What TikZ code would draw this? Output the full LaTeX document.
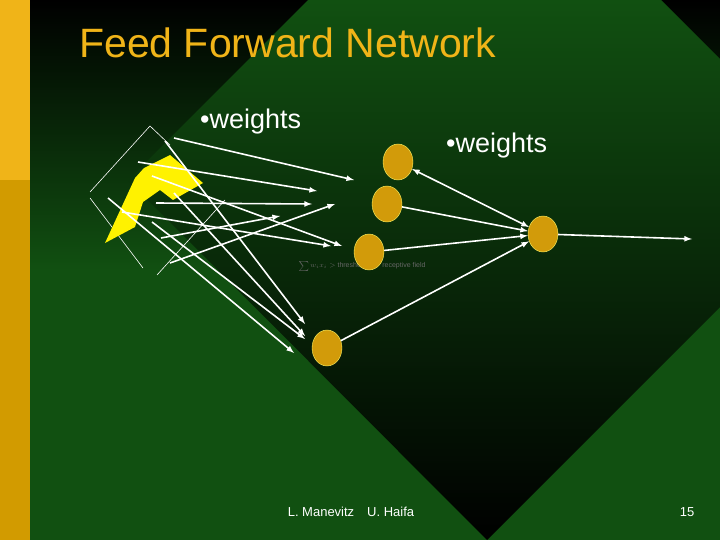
\documentclass[tikz,border=0pt]{standalone}
\usepackage{fontspec}
\setmainfont{Liberation Sans}
\usetikzlibrary{shapes.geometric}
\definecolor{slidegreen}{HTML}{115011}
\definecolor{stripgold}{HTML}{F0B418}
\definecolor{stripdark}{HTML}{D29B00}
\definecolor{neurongold}{HTML}{D29B0A}
\begin{document}
\begin{tikzpicture}[
  x=1pt, y=-1pt,
  neuron/.style={ellipse, draw=yellow!60, fill=neurongold, minimum width=30pt, minimum height=36pt, inner sep=0pt},
  wire/.style={->, >=latex, white, line width=1.6pt},
  outline/.style={white, line width=0.6pt}
  ]
  \useasboundingbox (0,0) rectangle (720,540);

  % Background
  \shade[top color=black, bottom color=slidegreen, middle color=slidegreen] (0,0) rectangle (720,540);
  \shade[top color=slidegreen, bottom color=black] (308,0) -- (128,180) -- (487,540) -- (720,307) -- (720,59) -- (661,0) -- cycle;
  \fill[stripgold] (0,0) rectangle (30,180);
  \fill[stripdark] (0,180) rectangle (30,540);

  % Texts
  \node (title) [anchor=base west, inner sep=0pt, text=stripgold, font=\fontsize{41}{44}\selectfont] at (79,58) {Feed Forward Network};
  \node (w1) [anchor=base west, inner sep=0pt, text=white, font=\fontsize{27}{30}\selectfont] at (200,129) {•weights};
  \node (w2) [anchor=base west, inner sep=0pt, text=white, font=\fontsize{27}{30}\selectfont] at (446,153) {•weights};
  \node (author) [anchor=base, text=white, font=\fontsize{13}{15}\selectfont] at (351,516) {L. Manevitz\quad U. Haifa};
  \node (page) [anchor=base, text=white, font=\fontsize{13}{15}\selectfont] at (687,516) {15};
  \node (sum) [text=black!60, font=\scriptsize] at (362,266) {$\sum w_i x_i >$ threshold \qquad receptive field};

  % Input picture
  \draw[outline] (170,145) -- (150,126) -- (90,192);
  \draw[outline] (90,198) -- (143,268);
  \draw[outline] (157,275) -- (225,200);
  \fill[yellow] (105,243) -- (135,178) -- (144,168) -- (170,155) -- (203,183) -- (173,200) -- (160,190) -- (143,202) -- (135,227) -- cycle;

  % Neurons
  \node (h1) [neuron] at (398,162) {};
  \node (h2) [neuron] at (387,204) {};
  \node (h3) [neuron] at (369,252) {};
  \node (h4) [neuron] at (327,348) {};
  \node (out) [neuron] at (543,234) {};
  \coordinate (end) at (692,239);

  % Input connections
  \draw[wire] (174,138) -- (354,180);
  \draw[wire] (138,162) -- (317,191);
  \draw[wire] (156,203) -- (312,204);
  \draw[wire] (152,176) -- (342,246);
  \draw[wire] (122,212) -- (331,246);
  \draw[wire] (170,263) -- (335,204);
  \draw[wire] (161,238) -- (280,216);
  \draw[wire] (165,141) -- (305,324);
  \draw[wire] (174,193) -- (305,336);
  \draw[wire] (152,222) -- (305,339);
  \draw[wire] (108,198) -- (294,353);

  % Hidden to output
  \draw[wire, <->] (h1) -- (out);
  \draw[wire] (h2) -- (out);
  \draw[wire] (h3) -- (out);
  \draw[wire] (h4) -- (out);
  \draw[wire] (out) -- (end);
\end{tikzpicture}
\end{document}
